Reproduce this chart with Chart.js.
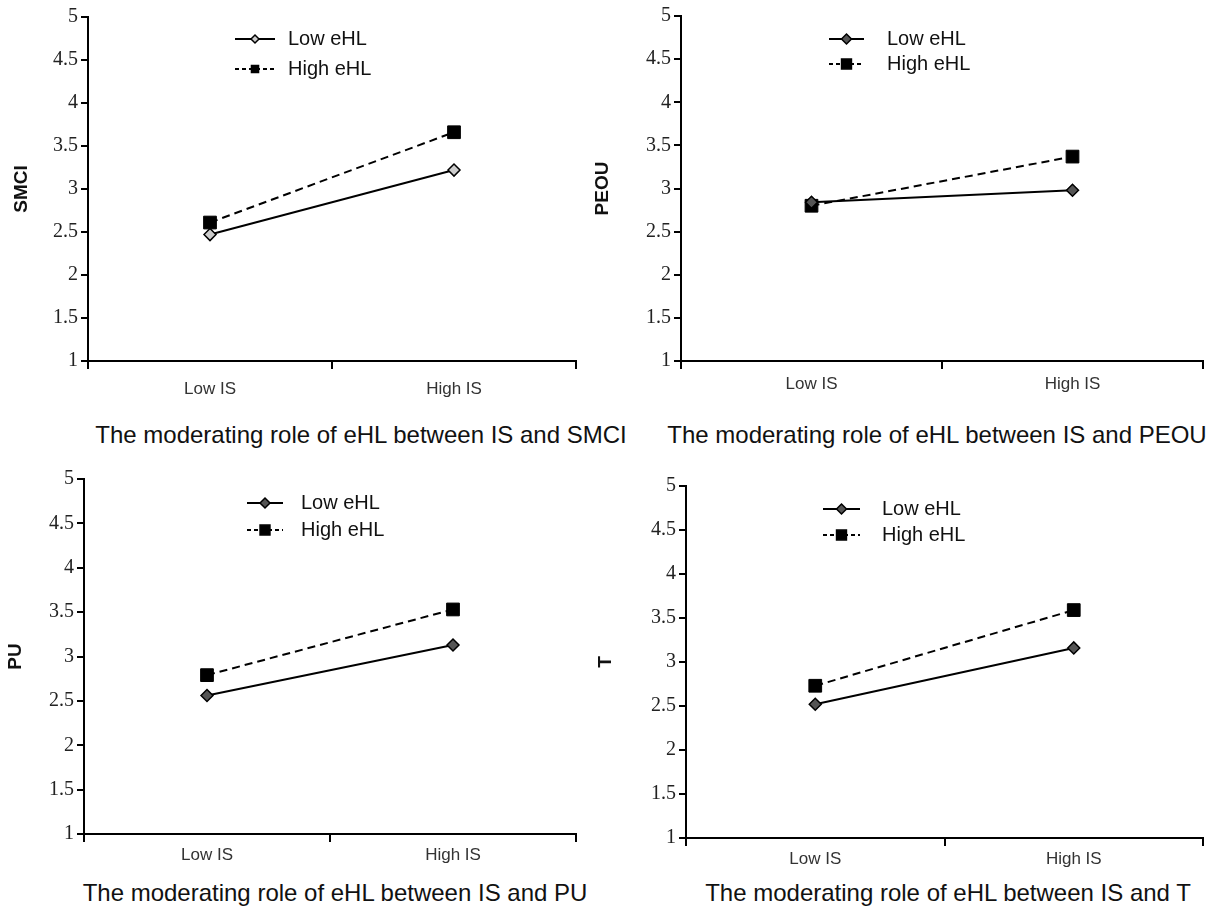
<!DOCTYPE html>
<html>
<head>
<meta charset="utf-8">
<script src="https://cdn.jsdelivr.net/npm/chart.js@4.4.0/dist/chart.umd.min.js"></script>
<style>
  body { margin: 0; background: #fff; width: 1213px; height: 909px; position: relative; overflow: hidden; }
  canvas { position: absolute; }
  .cap { position: absolute; font-family: 'Liberation Sans', Arial, sans-serif; font-size: 24px; color: #111; white-space: nowrap; transform: translate(-50%, -50%); }
</style>
</head>
<body>
<canvas id="c1" width="590" height="410" style="left:0;top:0"></canvas>
<canvas id="c2" width="623" height="410" style="left:590px;top:0"></canvas>
<canvas id="c3" width="590" height="420" style="left:0;top:455px"></canvas>
<canvas id="c4" width="623" height="420" style="left:590px;top:455px"></canvas>
<div class="cap" style="left:361px;top:435px">The moderating role of eHL between IS and SMCI</div>
<div class="cap" style="left:937px;top:435px">The moderating role of eHL between IS and PEOU</div>
<div class="cap" style="left:335px;top:893px">The moderating role of eHL between IS and PU</div>
<div class="cap" style="left:948px;top:893px">The moderating role of eHL between IS and T</div>
<script>
const categories = ['Low IS', 'High IS'];
const seriesNames = ['Low eHL', 'High eHL'];
const yTicks = [1, 1.5, 2, 2.5, 3, 3.5, 4, 4.5, 5];

const smciLow = [2.47, 3.22];
const smciHigh = [2.61, 3.66];
const peouLow = [2.84, 2.98];
const peouHigh = [2.80, 3.37];
const puLow = [2.56, 3.13];
const puHigh = [2.79, 3.53];
const tLow = [2.52, 3.16];
const tHigh = [2.73, 3.59];

// legend drawn inside the plot area, like the original figures
const inLegend = {
    id: 'inLegend',
    afterDraw(chart, args, opts) {
        const ctx = chart.ctx;
        ctx.save();
        chart.data.datasets.forEach((ds, i) => {
            const y = opts.y + i * opts.gap;
            ctx.strokeStyle = '#000';
            ctx.lineWidth = 2;
            ctx.setLineDash(ds.borderDash ? [4, 3] : []);
            ctx.beginPath();
            ctx.moveTo(opts.x, y);
            ctx.lineTo(opts.x + opts.len, y);
            ctx.stroke();
            ctx.setLineDash([]);
            ctx.fillStyle = ds.pointBackgroundColor;
            ctx.strokeStyle = '#000';
            ctx.lineWidth = 1.5;
            Chart.helpers.drawPoint(ctx, {
                pointStyle: ds.pointStyle, radius: opts.radii[i], rotation: 0, borderWidth: 1.5
            }, opts.x + opts.len / 2, y);
            ctx.fillStyle = '#111';
            ctx.font = '20px "Liberation Sans", Arial, sans-serif';
            ctx.textBaseline = 'middle';
            ctx.fillText(ds.label, opts.textX, y);
        });
        ctx.restore();
    }
};

function makeChart(id, yTitle, low, high, box, legend, diamondFill) {
    const cv = document.getElementById(id);
    const L = parseInt(cv.style.left) || 0;
    const T = parseInt(cv.style.top) || 0;
    new Chart(cv, {
        type: 'line',
        data: {
            labels: categories,
            datasets: [
                {
                    label: seriesNames[0], data: low,
                    borderColor: '#000', borderWidth: 2,
                    pointStyle: 'rectRot', pointRadius: 6,
                    pointBackgroundColor: diamondFill, pointBorderColor: '#000', pointBorderWidth: 1.5
                },
                {
                    label: seriesNames[1], data: high,
                    borderColor: '#000', borderWidth: 2, borderDash: [8, 5],
                    pointStyle: 'rect', pointRadius: 9,
                    pointBackgroundColor: '#000', pointBorderColor: '#000', pointBorderWidth: 1
                }
            ]
        },
        options: {
            responsive: false,
            animation: false,
            layout: { padding: { top: box.top - T, right: L + cv.width - box.right, left: 0, bottom: 0 } },
            plugins: {
                legend: { display: false },
                tooltip: { enabled: false },
                inLegend: {
                    x: legend.x - L, y: legend.y - T, gap: legend.gap, len: legend.len,
                    textX: legend.textX - L, radii: legend.radii
                }
            },
            scales: {
                x: {
                    type: 'category',
                    offset: true,
                    grid: { offset: true, drawOnChartArea: false, drawTicks: true, tickLength: 8, color: '#000', lineWidth: 2 },
                    border: { color: '#000', width: 2 },
                    ticks: { color: '#333', padding: box.xPad, font: { family: '"Liberation Sans", Arial, sans-serif', size: 17 } },
                    afterFit(s) { s.height = T + cv.height - box.bottom; }
                },
                y: {
                    min: 1, max: 5,
                    afterBuildTicks(s) { s.ticks = yTicks.map(v => ({ value: v })); },
                    grid: { drawOnChartArea: false, drawTicks: true, tickLength: 7, color: '#000', lineWidth: 2 },
                    border: { color: '#000', width: 2 },
                    ticks: {
                        color: '#222', padding: 3,
                        font: { family: '"Liberation Serif", "Times New Roman", serif', size: 20 },
                        callback: v => String(v)
                    },
                    title: {
                        display: true, text: yTitle, color: '#111', padding: { top: box.titlePad, bottom: 4 },
                        font: { family: '"Liberation Sans", Arial, sans-serif', size: 19, weight: 'bold' }
                    },
                    afterFit(s) { s.width = box.left - L; }
                }
            }
        },
        plugins: [inLegend]
    });
}

makeChart('c1', 'SMCI', smciLow, smciHigh,
    { left: 88, top: 17, right: 576, bottom: 361, xPad: 10, titlePad: 10 },
    { x: 235, y: 39, gap: 30, len: 40, textX: 288, radii: [4, 5] }, '#ccc');
makeChart('c2', 'PEOU', peouLow, peouHigh,
    { left: 681, top: 16, right: 1210, bottom: 361, xPad: 5, titlePad: 1 },
    { x: 829, y: 39, gap: 25, len: 35, textX: 887, radii: [5, 7] }, '#555');
makeChart('c3', 'PU', puLow, puHigh,
    { left: 84, top: 479, right: 576, bottom: 834, xPad: 3, titlePad: 4 },
    { x: 247, y: 503, gap: 27, len: 36, textX: 301, radii: [5, 7] }, '#555');
makeChart('c4', 'T', tLow, tHigh,
    { left: 686, top: 486, right: 1207, bottom: 838, xPad: 3, titlePad: 4 },
    { x: 823, y: 509, gap: 26, len: 37, textX: 882, radii: [5, 7] }, '#555');
</script>
</body>
</html>
